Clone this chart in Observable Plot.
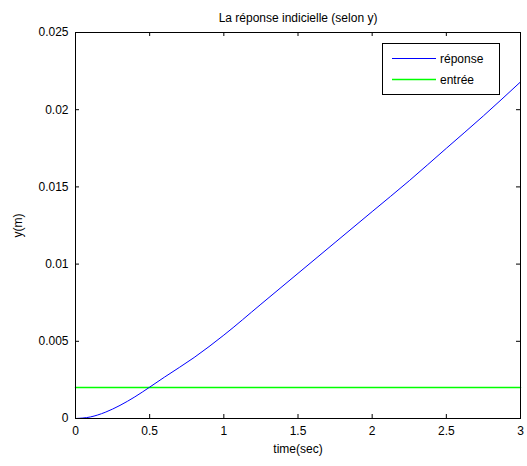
<!DOCTYPE html>
<html>
<head>
<meta charset="utf-8">
<script src="https://cdn.jsdelivr.net/npm/d3@7"></script>
<script src="https://cdn.jsdelivr.net/npm/@observablehq/plot@0.6"></script>
<style>
  html, body { margin: 0; padding: 0; background: #fff; }
  svg { font-family: "Liberation Sans", Arial, sans-serif; }
</style>
</head>
<body>
<div id="chart"></div>
<script>
const chartTitle = "La réponse indicielle (selon y)";
const xLabel = "time(sec)";
const yLabel = "y(m)";
const seriesNames = ["réponse", "entrée"];
const seriesColors = ["rgb(0,0,255)", "rgb(0,255,0)"];

const time = [0, 0.1, 0.2, 0.3, 0.4, 0.5, 0.6, 0.8, 1.0, 1.25, 1.5, 1.75, 2.0, 2.25, 2.5, 2.75, 3.0];
const reponse = [0, 0.0001, 0.0004, 0.00085, 0.0014, 0.00203, 0.00268, 0.00395, 0.0054, 0.0074, 0.0094, 0.0114, 0.0134, 0.0154, 0.0175, 0.0196, 0.0218];
const entreeLevel = 0.002;
const entreeTime = [0, 3];

const xTicks = [0, 0.5, 1, 1.5, 2, 2.5, 3];
const yTicks = [0, 0.005, 0.01, 0.015, 0.02, 0.025];

const respData = time.map((t, i) => ({t, y: reponse[i]}));
const entData = entreeTime.map(t => ({t, y: entreeLevel}));

const fmtX = d => String(d);
const fmtY = d => String(+d.toFixed(3));

// inward tick length expressed in data units (≈4px)
const xTickLen = 0.025 * 4 / 386;
const yTickLen = 3 * 4 / 445;

const plot = Plot.plot({
  width: 527,
  height: 466,
  marginLeft: 75,
  marginRight: 7,
  marginTop: 32,
  marginBottom: 48,
  style: {fontFamily: '"Liberation Sans", Arial, sans-serif', fontSize: "12px", background: "white", color: "black"},
  x: {domain: [0, 3]},
  y: {domain: [0, 0.025]},
  marks: [
    Plot.line(entData, {x: "t", y: "y", stroke: seriesColors[1], strokeWidth: 1.5}),
    Plot.line(respData, {x: "t", y: "y", stroke: seriesColors[0], strokeWidth: 1, curve: "monotone-x"}),
    // inward ticks (MATLAB box style)
    Plot.ruleX(xTicks, {x: d => d, y1: 0, y2: xTickLen, stroke: "black"}),
    Plot.ruleX(xTicks, {x: d => d, y1: 0.025 - xTickLen, y2: 0.025, stroke: "black"}),
    Plot.ruleY(yTicks, {y: d => d, x1: 0, x2: yTickLen, stroke: "black"}),
    Plot.ruleY(yTicks, {y: d => d, x1: 3 - yTickLen, x2: 3, stroke: "black"}),
    Plot.frame({stroke: "black", strokeWidth: 1}),
    Plot.axisX(xTicks, {anchor: "bottom", tickSize: 0, tickPadding: 8, tickFormat: fmtX, label: xLabel, labelAnchor: "center", labelArrow: "none", labelOffset: 34, fontSize: 12}),
    Plot.axisY(yTicks, {anchor: "left", tickSize: 0, tickPadding: 7, tickFormat: fmtY, label: yLabel, labelAnchor: "center", labelArrow: "none", labelOffset: 62, fontSize: 12}),
    Plot.text([chartTitle], {frameAnchor: "top", dy: -19, fontSize: 12})
  ]
});

// Legend (MATLAB style box)
const svg = d3.select(plot);
const lg = svg.append("g").attr("font-size", 12).attr("text-anchor", "start");
lg.append("rect").attr("x", 382.5).attr("y", 43.5).attr("width", 117).attr("height", 51)
  .attr("fill", "white").attr("stroke", "black");
seriesNames.forEach((name, i) => {
  const yy = 58.5 + i * 21;
  lg.append("line").attr("x1", 392).attr("x2", 436).attr("y1", yy).attr("y2", yy)
    .attr("stroke", seriesColors[i]).attr("stroke-width", i === 1 ? 1.5 : 1);
  lg.append("text").attr("x", 440).attr("y", yy).attr("dy", "0.35em").attr("text-anchor", "start")
    .attr("fill", "black").text(name);
});

document.getElementById("chart").appendChild(plot);
</script>
</body>
</html>
